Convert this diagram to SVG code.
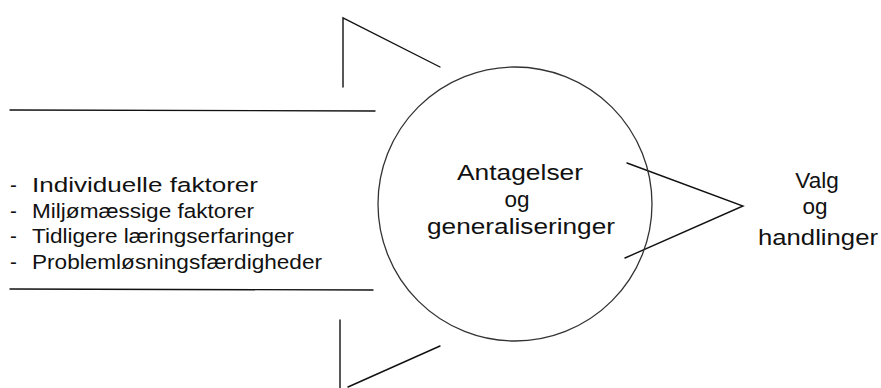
<svg xmlns="http://www.w3.org/2000/svg" width="881" height="388" viewBox="0 0 881 388">
<style>
.ln{stroke:#111;stroke-width:1.4;fill:none;stroke-linecap:round;stroke-linejoin:miter}
.circ{stroke:#333;stroke-width:1.3;fill:none}
.t{font-family:"Liberation Sans",Arial,sans-serif;fill:#111}
.list{font-size:20.5px}
.big{font-size:22.5px;text-anchor:middle}
</style>
<rect width="881" height="388" fill="#fff"/>
<g id="connectors">
<line class="ln" x1="10" y1="110" x2="375" y2="111"/>
<line class="ln" x1="10" y1="289" x2="373" y2="290"/>
<polyline class="ln" points="343,87 343,18 440,67"/>
<polyline class="ln" points="340,320 340,388"/>
<line class="ln" x1="348" y1="387" x2="440" y2="346"/>
<polyline class="ln" points="627,163 743,206 625,258"/>
</g>
<g id="inputs">
<text class="t list" x="10" y="192">- <tspan x="32" textLength="226" lengthAdjust="spacingAndGlyphs">Individuelle faktorer</tspan></text>
<text class="t list" x="10" y="218">- <tspan x="32" textLength="222" lengthAdjust="spacingAndGlyphs">Miljømæssige faktorer</tspan></text>
<text class="t list" x="10" y="243">- <tspan x="32" textLength="262" lengthAdjust="spacingAndGlyphs">Tidligere læringserfaringer</tspan></text>
<text class="t list" x="10" y="269">- <tspan x="32" textLength="290" lengthAdjust="spacingAndGlyphs">Problemløsningsfærdigheder</tspan></text>
</g>
<g id="center">
<circle class="circ" cx="515" cy="204" r="137"/>
<text class="t big" x="520" y="180" textLength="126" lengthAdjust="spacingAndGlyphs">Antagelser</text>
<text class="t big" x="517" y="207">og</text>
<text class="t big" x="521" y="234" textLength="188" lengthAdjust="spacingAndGlyphs">generaliseringer</text>
</g>
<g id="output">
<text class="t big" x="817" y="188">Valg</text>
<text class="t big" x="815" y="214">og</text>
<text class="t big" x="818" y="245" textLength="120" lengthAdjust="spacingAndGlyphs">handlinger</text>
</g>
</svg>
